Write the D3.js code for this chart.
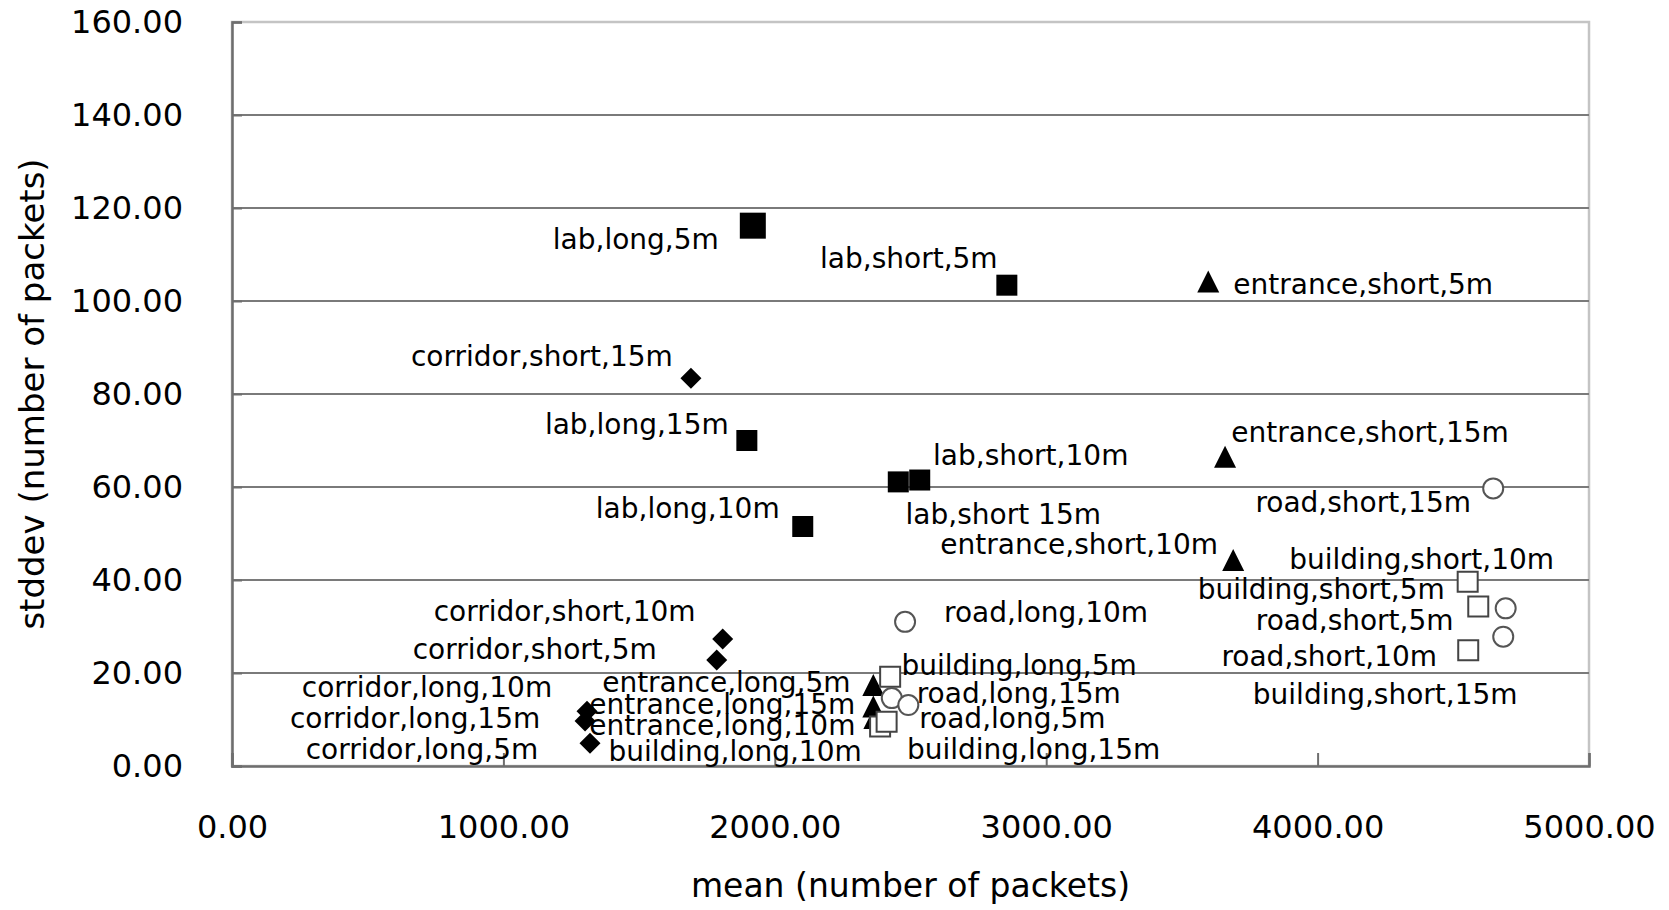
<!DOCTYPE html>
<html>
<head>
<meta charset="utf-8">
<script src="https://cdn.jsdelivr.net/npm/d3@7"></script>
<style>
  body { margin: 0; background: #fff; }
  text { font-family: "DejaVu Sans", sans-serif; fill: #000; }
</style>
</head>
<body>
<svg id="chart" width="1669" height="910"></svg>
<script>

// data: mean / stddev (number of packets)
const labLabels = ["lab,long,5m", "lab,short,5m", "lab,long,15m", "lab,short 15m", "lab,short,10m", "lab,long,10m"]
const labMean = [1919, 2855, 1897, 2455, 2534, 2103]
const labStddev = [116.2, 103.4, 70.0, 61.1, 61.5, 51.5]

const corridorLabels = ["corridor,short,15m", "corridor,short,10m", "corridor,short,5m", "corridor,long,10m", "corridor,long,15m", "corridor,long,5m"]
const corridorMean = [1691, 1808, 1786, 1308, 1301, 1319]
const corridorStddev = [83.4, 27.3, 22.8, 11.8, 9.7, 4.9]

const entranceLabels = ["entrance,short,5m", "entrance,short,15m", "entrance,short,10m", "entrance,long,5m", "entrance,long,15m", "entrance,long,10m"]
const entranceMean = [3597, 3659, 3689, 2363, 2363, 2367]
const entranceStddev = [104.2, 66.5, 44.3, 17.4, 12.8, 10.3]

const buildingLabels = ["building,short,10m", "building,short,5m", "building,short,15m", "building,long,5m", "building,long,10m", "building,long,15m"]
const buildingMean = [4553, 4592, 4555, 2425, 2388, 2412]
const buildingStddev = [39.6, 34.3, 24.9, 19.2, 8.5, 9.5]

const roadLabels = ["road,short,15m", "road,long,10m", "road,short,5m", "road,short,10m", "road,long,15m", "road,long,5m"]
const roadMean = [4647, 2480, 4693, 4684, 2431, 2492]
const roadStddev = [59.7, 31.0, 33.9, 27.8, 14.6, 13.1]

const xTicks = [0, 1000, 2000, 3000, 4000, 5000]
const yTicks = [0, 20, 40, 60, 80, 100, 120, 140, 160]

// where each data label sits, relative to its marker (px)
const labelOffsets = {
    "lab,long,5m": [-117, 14], "lab,short,5m": [-98, -27], "lab,long,15m": [-110, -16],
    "lab,short 15m": [105, 32], "lab,short,10m": [111, -25], "lab,long,10m": [-115, -18],
    "corridor,short,15m": [-149, -22], "corridor,short,10m": [-158, -28], "corridor,short,5m": [-182, -11],
    "corridor,long,10m": [-160, -24], "corridor,long,15m": [-170, -3], "corridor,long,5m": [-168, 6],
    "entrance,short,5m": [155, 3], "entrance,short,15m": [145, -25], "entrance,short,10m": [-154, -16],
    "entrance,long,5m": [-147, -3], "entrance,long,15m": [-151, -2], "entrance,long,10m": [-152, 7],
    "building,short,10m": [-46, -23], "building,short,5m": [-157, -17], "building,short,15m": [-83, 44],
    "building,long,5m": [129, -12], "building,long,10m": [-145, 25], "building,long,15m": [147, 27],
    "road,short,15m": [-130, 14], "road,long,10m": [141, -10], "road,short,5m": [-151, 12],
    "road,short,10m": [-174, 19], "road,long,15m": [127, -5], "road,long,5m": [104, 13]
}

// custom marker shapes, size = width^2
const squareShape = {
    draw(context, size) {
        const h = Math.sqrt(size) / 2
        context.rect(-h, -h, 2 * h, 2 * h)
    }
}
const diamondShape = {
    draw(context, size) {
        const h = Math.sqrt(size) / 2
        context.moveTo(0, -h)
        context.lineTo(h, 0)
        context.lineTo(0, h)
        context.lineTo(-h, 0)
        context.closePath()
    }
}
const triangleShape = {
    draw(context, size) {
        const h = Math.sqrt(size) / 2
        context.moveTo(0, -h)
        context.lineTo(h, h)
        context.lineTo(-h, h)
        context.closePath()
    }
}

const series = [
    { labels: labLabels, mean: labMean, stddev: labStddev, shape: squareShape, width: 21, fill: "#000", stroke: "none" },
    { labels: corridorLabels, mean: corridorMean, stddev: corridorStddev, shape: diamondShape, width: 21, fill: "#000", stroke: "none" },
    { labels: entranceLabels, mean: entranceMean, stddev: entranceStddev, shape: triangleShape, width: 22, fill: "#000", stroke: "none" },
    { labels: buildingLabels, mean: buildingMean, stddev: buildingStddev, shape: squareShape, width: 20, fill: "#fff", stroke: "#444" },
    { labels: roadLabels, mean: roadMean, stddev: roadStddev, shape: d3.symbolCircle, width: 20, fill: "#fff", stroke: "#555" }
]

// one marker drawn larger in the original
const sizeOverride = { "lab,long,5m": 26 }

const plot = { left: 232, right: 1589, top: 22, bottom: 766 }

const svg = d3.select("#chart")

const x = d3.scaleLinear().domain([0, 5000]).range([plot.left, plot.right])
const y = d3.scaleLinear().domain([0, 160]).range([plot.bottom, plot.top])

// plot frame
svg.append("rect")
.attr("x", plot.left)
.attr("y", plot.top)
.attr("width", plot.right - plot.left)
.attr("height", plot.bottom - plot.top)
.attr("fill", "#fff")
.attr("stroke", "#c4c4c4")
.attr("stroke-width", 2.5)

// gridlines
svg.append("g")
.selectAll("line")
.data(yTicks.filter(d => d > 0 && d < 160))
.join("line")
.attr("x1", plot.left)
.attr("x2", plot.right)
.attr("y1", d => y(d))
.attr("y2", d => y(d))
.attr("stroke", "#7a7a7a")
.attr("stroke-width", 2)

// axes
const yAxis = svg.append("g")
.attr("transform", `translate(${plot.left},0)`)
.call(d3.axisLeft(y).tickValues(yTicks).tickFormat(d3.format(".2f")).tickSize(-10).tickPadding(49))

const xAxis = svg.append("g")
.attr("transform", `translate(0,${plot.bottom})`)
.call(d3.axisBottom(x).tickValues(xTicks).tickFormat(d3.format(".2f")).tickSize(-13).tickPadding(49))

;[xAxis, yAxis].forEach(axis => {
    axis.select(".domain").attr("stroke", "#6e6e6e").attr("stroke-width", 2.5)
    axis.selectAll(".tick line").attr("stroke", "#6e6e6e").attr("stroke-width", 2)
    axis.selectAll("text")
    .attr("fill", "#000")
    .style("font-family", "'DejaVu Sans', sans-serif")
    .style("font-size", "32px")
})

// markers
const points = series.flatMap(s => s.labels.map((label, i) => ({
    label: label,
    mean: s.mean[i],
    stddev: s.stddev[i],
    s: s
})))

svg.append("g")
.selectAll("path")
.data(points)
.join("path")
.attr("transform", d => `translate(${x(d.mean)},${y(d.stddev)})`)
.attr("d", d => {
    const w = sizeOverride[d.label] || d.s.width
    const size = d.s.shape === d3.symbolCircle ? Math.PI * (w / 2) * (w / 2) : w * w
    return d3.symbol().type(d.s.shape).size(size)()
})
.attr("fill", d => d.s.fill)
.attr("stroke", d => d.s.stroke)
.attr("stroke-width", 2)

// data labels
svg.append("g")
.selectAll("text")
.data(points)
.join("text")
.attr("x", d => x(d.mean) + labelOffsets[d.label][0])
.attr("y", d => y(d.stddev) + labelOffsets[d.label][1])
.attr("dy", "0.35em")
.attr("text-anchor", "middle")
.style("font-size", "28px")
.text(d => d.label)

// axis titles
svg.append("text")
.attr("x", (plot.left + plot.right) / 2)
.attr("y", 885)
.attr("dy", "0.35em")
.attr("text-anchor", "middle")
.style("font-size", "33px")
.text("mean (number of packets)")

svg.append("text")
.attr("transform", `translate(32,${(plot.top + plot.bottom) / 2}) rotate(-90)`)
.attr("dy", "0.35em")
.attr("text-anchor", "middle")
.style("font-size", "34px")
.text("stddev (number of packets)")

</script>
</body>
</html>
